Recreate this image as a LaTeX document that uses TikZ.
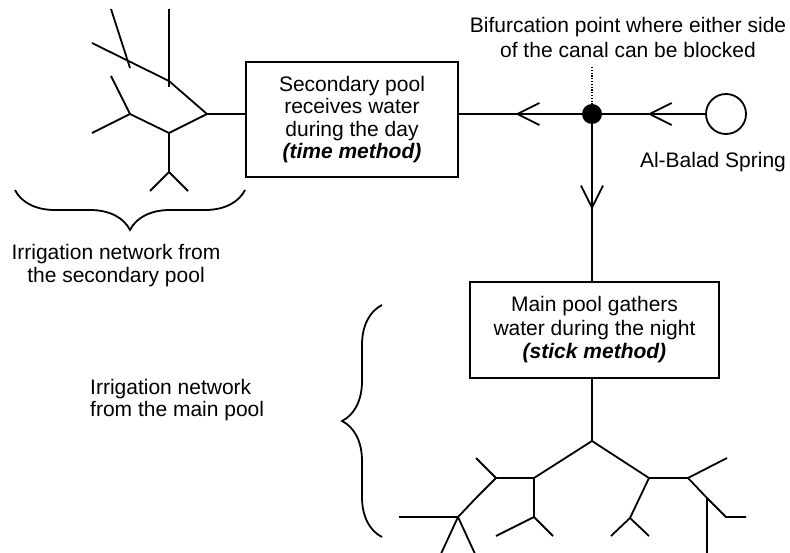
\documentclass[tikz,border=0pt]{standalone}
\usepackage{fontspec}
\setmainfont{Liberation Sans}
\usetikzlibrary{arrows.meta,decorations.markings,decorations.pathreplacing}
\begin{document}
\begin{tikzpicture}[x=1pt,y=-1pt,
  wire/.style={line width=1.8pt},
  pool/.style={draw,line width=1.8pt,inner sep=0pt,align=center},
  lbl/.style={inner sep=0pt},
  flowarrow/.style={postaction={decorate},decoration={markings,
     mark=at position #1 with {\arrow[line width=1.8pt]{Straight Barb[length=22pt,width=22pt]}}}},
  bracket/.style={line width=1.8pt,decorate,decoration={brace,amplitude=40pt}},
  guide/.style={line width=1.2pt,dash pattern=on 1.2pt off 1.6pt}
]
\useasboundingbox (0,0) rectangle (790,553);
\clip (0,0) rectangle (790,553);

% boxes
\node[pool,minimum width=212pt,minimum height=115pt,font=\fontsize{21}{22.3}\selectfont] (sec) at (352,119.5)
  {Secondary pool\\receives water\\during the day\\\textbf{\textit{(time method)}}};
\node[pool,minimum width=249pt,minimum height=96pt,font=\fontsize{21}{23.5}\selectfont] (main) at (594.5,330)
  {Main pool gathers\\water during the night\\\textbf{\textit{(stick method)}}};

% bifurcation point and spring
\node[circle,fill=black,minimum size=20pt,inner sep=0pt] (bif) at (592,114) {};
\node[circle,draw,line width=1.8pt,minimum size=40pt,inner sep=0pt] (spring) at (726,114) {};
\coordinate (dtop) at (592,67);
\draw[guide] (dtop) -- (bif.north);

% flow connectors
\draw[wire,flowarrow=0.558] (spring) -- (bif);
\draw[wire,flowarrow=0.54] (bif) -- (bif -| sec.east);
\draw[wire,flowarrow=0.544] (bif) -- (bif |- main.north);

% labels
\node[lbl,align=center,font=\fontsize{21}{25}\selectfont] (biftxt) at (628,37.5)
  {Bifurcation point where either side\\of the canal can be blocked};
\node[lbl,font=\fontsize{21}{23}\selectfont] (springtxt) at (713,162) {Al-Balad Spring};
\node[lbl,align=center,font=\fontsize{21}{23}\selectfont] (irrsec) at (116,265.7)
  {Irrigation network from\\the secondary pool};
\node[lbl,align=left,anchor=west,font=\fontsize{21}{22}\selectfont] (irrmain) at (90,400)
  {Irrigation network\\from the main pool};

% braces
\coordinate (b1a) at (245,190);
\coordinate (b1b) at (15,190);
\draw[bracket] (b1a) -- (b1b);
\coordinate (b2a) at (382,537);
\coordinate (b2b) at (382,305);
\draw[bracket] (b2a) -- (b2b);

% secondary irrigation network
\coordinate (r0) at (207,114);
\draw[wire] (r0 -| sec.west) -- (r0);
\draw[wire] (r0) -- (169,81) -- (92,43);
\draw[wire] (111,9) -- (130,68);
\draw[wire] (169,9) -- (169,87);
\draw[wire] (r0) -- (169,133) -- (130,114) -- (111,76);
\draw[wire] (130,114) -- (92,133);
\draw[wire] (169,133) -- (169,172) -- (150,191);
\draw[wire] (169,172) -- (188,191);

% main irrigation network
\coordinate (j) at (592,441);
\draw[wire] (j |- main.south) -- (j);
\draw[wire] (j) -- (534,478) -- (496,478) -- (476,458);
\draw[wire] (496,478) -- (477,497) -- (458,517) -- (440,556);
\draw[wire] (458,517) -- (476,556);
\draw[wire] (399,517) -- (458,517);
\draw[wire] (534,478) -- (534,517) -- (496,536);
\draw[wire] (534,517) -- (553,536);
\draw[wire] (j) -- (649,478) -- (688,478) -- (727,458);
\draw[wire] (688,478) -- (707,498) -- (726,517) -- (746,517);
\draw[wire] (707,498) -- (707,556);
\draw[wire] (649,478) -- (630,518) -- (611,536);
\draw[wire] (630,518) -- (649,536);
\end{tikzpicture}
\end{document}
